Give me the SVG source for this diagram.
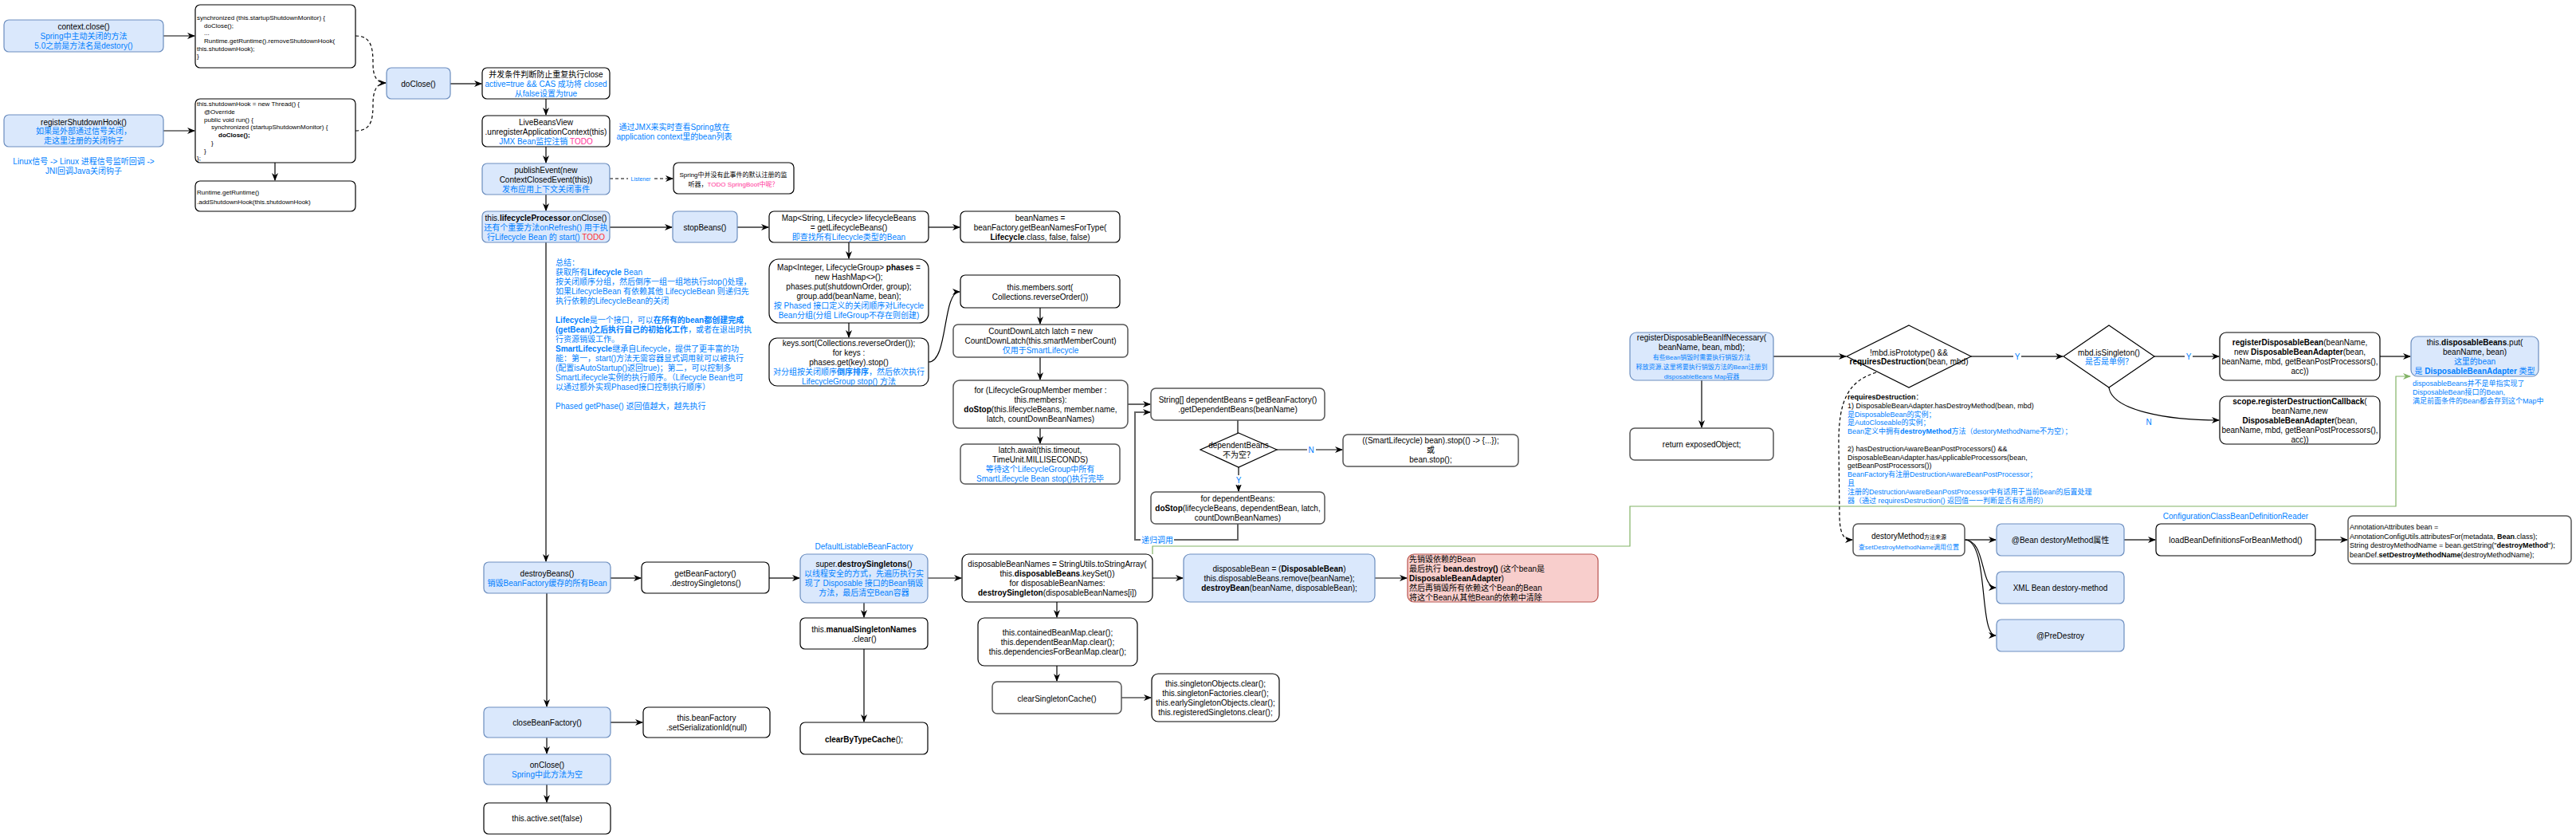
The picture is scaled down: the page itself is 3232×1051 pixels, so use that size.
<svg xmlns="http://www.w3.org/2000/svg" width="3232" height="1051" viewBox="0 0 3232 1051">
<style>
text{font-family:"Liberation Sans","Noto Sans CJK SC",sans-serif;font-size:10px;fill:#000}
.m{text-anchor:middle}
.s7{font-size:7px}
.s8{font-size:8px}
.s9{font-size:9px}
.u{fill:#007FFF}
.k{fill:#FF3399}
.rd{fill:#FF3333}
.bd{font-weight:bold}
.nw{fill:#fff;stroke:#000;stroke-width:1.2}
.ng{fill:#fff;stroke:#555;stroke-width:1.5}
.nb{fill:#dae8fc;stroke:#6c8ebf;stroke-width:1.2}
.nr{fill:#f8cecc;stroke:#b85450;stroke-width:1.2}
.e{fill:none;stroke:#000;stroke-width:1.2}
.eg{fill:none;stroke:#666;stroke-width:2}
.ed{fill:none;stroke:#000;stroke-width:1.2;stroke-dasharray:4 3}
.egr{fill:none;stroke:#82b366;stroke-width:1.2}
.bg{fill:#fff}
</style>
<defs>
<marker id="a" viewBox="0 0 10 10" refX="9" refY="5" markerWidth="10" markerHeight="10" markerUnits="userSpaceOnUse" orient="auto"><path d="M0,1 L10,5 L0,9 L3,5 z" fill="#000"/></marker>
<marker id="ag" viewBox="0 0 10 10" refX="9" refY="5" markerWidth="10" markerHeight="10" markerUnits="userSpaceOnUse" orient="auto"><path d="M0,1 L10,5 L0,9 L3,5 z" fill="#82b366"/></marker>
</defs>
<rect width="3232" height="1051" fill="#fff"/>

<g id="connectors">
<path class="e" d="M205,45 H244" marker-end="url(#a)"/>
<path class="e" d="M205,164 H244" marker-end="url(#a)"/>
<path class="e" d="M345,204 V226" marker-end="url(#a)"/>
<path class="ed" d="M446,45 C466,45 468,60 468,80 C468,95 472,104 484,104" marker-end="url(#a)"/>
<path class="ed" d="M446,164 C466,164 468,150 468,130 C468,115 472,104 484,104"/>
<path class="eg" d="M565,105 H604" marker-end="url(#a)"/>
<path class="e" d="M685,124 V144" marker-end="url(#a)"/>
<path class="e" d="M685,184 V204" marker-end="url(#a)"/>
<path class="e" d="M685,244 V264" marker-end="url(#a)"/>
<path class="ed" d="M765,224 H844" marker-end="url(#a)"/>
<rect class="bg" x="788" y="219" width="32" height="9"/>
<text class="s7 u m" x="804" y="226.5">Listener</text>
<path class="eg" d="M765,285 H843" marker-end="url(#a)"/>
<path class="eg" d="M925,285 H964" marker-end="url(#a)"/>
<path class="eg" d="M1165,285 H1204" marker-end="url(#a)"/>
<path class="e" d="M1065,304 V324" marker-end="url(#a)"/>
<path class="e" d="M1065,405 V423" marker-end="url(#a)"/>
<path class="e" d="M1165,454 C1190,454 1182,366 1204,366" marker-end="url(#a)"/>
<path class="e" d="M1305,386 V406" marker-end="url(#a)"/>
<path class="e" d="M1305,448 V476" marker-end="url(#a)"/>
<path class="e" d="M1305,537 V556" marker-end="url(#a)"/>
<path class="eg" d="M1415,507 H1443" marker-end="url(#a)"/>
<path class="e" d="M1553,527 V543"/>
<path class="e" d="M1602,564 H1684" marker-end="url(#a)"/>
<rect class="bg" x="1640" y="558" width="11" height="12"/>
<text class="u m" x="1645" y="567.5">N</text>
<path class="e" d="M1554,586 V616" marker-end="url(#a)"/>
<rect class="bg" x="1549" y="596" width="10" height="12"/>
<text class="u m" x="1554" y="605.5">Y</text>
<path class="eg" d="M1553,657 V677 H1424 V517 H1443" marker-end="url(#a)"/>
<rect class="bg" x="1431" y="671" width="42" height="13"/>
<text class="u m" x="1452" y="680.5">递归调用</text>
<path class="e" d="M685,304 V704" marker-end="url(#a)"/>
<path class="eg" d="M766,725 H804" marker-end="url(#a)"/>
<path class="eg" d="M965,725 H1003" marker-end="url(#a)"/>
<path class="e" d="M1164,725 H1206" marker-end="url(#a)"/>
<path class="e" d="M1446,725 H1484" marker-end="url(#a)"/>
<path class="e" d="M1725,725 H1765" marker-end="url(#a)"/>
<path class="e" d="M1084,756 V774" marker-end="url(#a)"/>
<path class="e" d="M1084,814 V905" marker-end="url(#a)"/>
<path class="e" d="M1326,755 V774" marker-end="url(#a)"/>
<path class="e" d="M1326,835 V854" marker-end="url(#a)"/>
<path class="e" d="M1407,875 H1444" marker-end="url(#a)"/>
<path class="e" d="M686,744 V886" marker-end="url(#a)"/>
<path class="eg" d="M766,906 H806" marker-end="url(#a)"/>
<path class="e" d="M686,925 V945" marker-end="url(#a)"/>
<path class="e" d="M686,984 V1006" marker-end="url(#a)"/>
<path class="egr" d="M1446,695 V685 H2045 V635 H3006 V472 H3024" marker-end="url(#ag)"/>
<path class="eg" d="M2225,447 H2316" marker-end="url(#a)"/>
<path class="e" d="M2135,477 V536" marker-end="url(#a)"/>
<path class="eg" d="M2473,447 H2588" marker-end="url(#a)"/>
<rect class="bg" x="2526" y="441" width="10" height="12"/>
<text class="u m" x="2531" y="450.5">Y</text>
<path class="eg" d="M2703,447 H2784" marker-end="url(#a)"/>
<rect class="bg" x="2741" y="441" width="10" height="12"/>
<text class="u m" x="2746" y="450.5">Y</text>
<path class="e" d="M2646,486 C2650,515 2720,527 2784,527" marker-end="url(#a)"/>
<text class="u m" x="2696" y="533">N</text>
<path class="eg" d="M2986,447 H3024" marker-end="url(#a)"/>
<path class="ed" d="M2354,467 C2320,478 2306,500 2307,560 L2308,650 C2309,672 2314,677 2324,677" marker-end="url(#a)"/>
<path class="eg" d="M2465,677 H2504" marker-end="url(#a)"/>
<path class="e" d="M2465,677 C2492,677 2484,737 2504,737" marker-end="url(#a)"/>
<path class="e" d="M2465,677 C2496,677 2482,797 2504,797" marker-end="url(#a)"/>
<path class="eg" d="M2665,677 H2704" marker-end="url(#a)"/>
<path class="eg" d="M2905,677 H2945" marker-end="url(#a)"/>
</g>

<g id="n-ctxclose">
<rect class="nb" x="5" y="25" width="200" height="40" rx="6"/>
<text class="m" x="105" y="36.5">context.close()</text>
<text class="m u" x="105" y="48.5">Spring中主动关闭的方法</text>
<text class="m u" x="105" y="60.5">5.0之前是方法名是destory()</text>
</g>
<g id="n-code1">
<rect class="nw" x="245" y="6" width="201" height="79" rx="6"/>
<text class="s8" x="247" y="24.8">synchronized (this.startupShutdownMonitor) {</text>
<text class="s8" x="256" y="34.5">doClose();</text>
<text class="s8" x="256" y="44.1">...</text>
<text class="s8" x="256" y="53.8">Runtime.getRuntime().removeShutdownHook(</text>
<text class="s8" x="247" y="63.5">this.shutdownHook);</text>
<text class="s8" x="247" y="73.1">}</text>
</g>
<g id="n-register">
<rect class="nb" x="5" y="144" width="200" height="40" rx="6"/>
<text class="m" x="105" y="156.5">registerShutdownHook()</text>
<text class="m u" x="105" y="168">如果是外部通过信号关闭，</text>
<text class="m u" x="105" y="179.5">走这里注册的关闭钩子</text>
</g>
<g id="n-linux">
<text class="m u" x="105" y="205.5">Linux信号 -&gt; Linux 进程信号监听回调 -&gt;</text>
<text class="m u" x="105" y="217.5">JNI回调Java关闭钩子</text>
</g>
<g id="n-code2">
<rect class="nw" x="245" y="124" width="201" height="80" rx="6"/>
<text class="s8" x="247" y="132.8">this.shutdownHook = new Thread() {</text>
<text class="s8" x="256" y="142.8">@Override</text>
<text class="s8" x="256" y="152.8">public void run() {</text>
<text class="s8" x="265" y="161.8">synchronized (startupShutdownMonitor) {</text>
<text class="s8 bd" x="274" y="171.8">doClose();</text>
<text class="s8" x="265" y="181.8">}</text>
<text class="s8" x="256" y="191.8">}</text>
<text class="s8" x="247" y="200.8">};</text>
</g>
<g id="n-code3">
<rect class="nw" x="245" y="227" width="201" height="38" rx="6"/>
<text class="s8" x="247" y="243.8">Runtime.getRuntime()</text>
<text class="s8" x="247" y="255.8">.addShutdownHook(this.shutdownHook)</text>
</g>
<g id="n-doclose">
<rect class="nb" x="485" y="85" width="80" height="39" rx="6"/>
<text class="m" x="525" y="108.5">doClose()</text>
</g>
<g id="n-cond">
<rect class="nw" x="605" y="85" width="160" height="39" rx="6"/>
<text class="m" x="685" y="96.5">并发条件判断防止重复执行close</text>
<text class="m u" x="685" y="108.5">active=true &amp;&amp; CAS 成功将 closed</text>
<text class="m u" x="685" y="120.5">从false设置为true</text>
</g>
<g id="n-livebeans">
<rect class="nw" x="605" y="145" width="160" height="39" rx="6"/>
<text class="m" x="685" y="156.5">LiveBeansView</text>
<text class="m" x="685" y="168.5">.unregisterApplicationContext(this)</text>
<text class="m" x="685" y="180.5"><tspan class="u">JMX Bean监控注销 </tspan><tspan class="k">TODO</tspan></text>
</g>
<g id="n-jmxnote">
<text class="m u" x="846" y="162.5">通过JMX来实时查看Spring放在</text>
<text class="m u" x="846" y="174.5">application context里的bean列表</text>
</g>
<g id="n-publish">
<rect class="nb" x="605" y="205" width="160" height="39" rx="6"/>
<text class="m" x="685" y="216.5">publishEvent(new</text>
<text class="m" x="685" y="228.5">ContextClosedEvent(this))</text>
<text class="m u" x="685" y="240.5">发布应用上下文关闭事件</text>
</g>
<g id="n-listenernote">
<rect class="nw" x="845" y="204" width="151" height="39" rx="6"/>
<text class="m s8" x="920" y="221.8">Spring中并没有此事件的默认注册的监</text>
<text class="m s8" x="920" y="233.8">听器，<tspan class="k">TODO SpringBoot中呢？</tspan></text>
</g>
<g id="n-lifecycle">
<rect class="nb" x="605" y="265" width="160" height="39" rx="6"/>
<text class="m" x="685" y="276.5">this.<tspan class="bd">lifecycleProcessor</tspan>.onClose()</text>
<text class="m u" x="685" y="288.5">还有个重要方法onRefresh() 用于执</text>
<text class="m" x="685" y="300.5"><tspan class="u">行Lifecycle Bean 的 start() </tspan><tspan class="rd">TODO</tspan></text>
</g>
<g id="n-stopbeans">
<rect class="nb" x="844" y="265" width="81" height="39" rx="6"/>
<text class="m" x="884.5" y="288.5">stopBeans()</text>
</g>
<g id="n-summary">
<text class="u" x="697" y="332.5">总结：</text>
<text class="u" x="697" y="344.5">获取所有<tspan class="bd">Lifecycle</tspan> Bean</text>
<text class="u" x="697" y="356.5">按关闭顺序分组，然后倒序一组一组地执行stop()处理，</text>
<text class="u" x="697" y="368.5">如果LifecycleBean 有依赖其他 LifecycleBean 则递归先</text>
<text class="u" x="697" y="380.5">执行依赖的LifecycleBean的关闭</text>
<text class="u" x="697" y="404.5"><tspan class="bd">Lifecycle</tspan>是一个接口，可以<tspan class="bd">在所有的bean都创建完成</tspan></text>
<text class="u" x="697" y="416.5"><tspan class="bd">(getBean)之后执行自己的初始化工作</tspan>，或者在退出时执</text>
<text class="u" x="697" y="428.5">行资源销毁工作。</text>
<text class="u" x="697" y="440.5"><tspan class="bd">SmartLifecycle</tspan>继承自Lifecycle，提供了更丰富的功</text>
<text class="u" x="697" y="452.5">能：第一，start()方法无需容器显式调用就可以被执行</text>
<text class="u" x="697" y="464.5">(配置isAutoStartup()返回true)；第二，可以控制多</text>
<text class="u" x="697" y="476.5">SmartLifecycle实例的执行顺序。（Lifecycle Bean也可</text>
<text class="u" x="697" y="488.5">以通过额外实现Phased接口控制执行顺序）</text>
<text class="u" x="697" y="512.5">Phased getPhase() 返回值越大，越先执行</text>
</g>
<g id="n-mapstring">
<rect class="nw" x="965" y="265" width="200" height="39" rx="6"/>
<text class="m" x="1065" y="276.5">Map&lt;String, Lifecycle&gt; lifecycleBeans</text>
<text class="m" x="1065" y="288.5">= getLifecycleBeans()</text>
<text class="m u" x="1065" y="300.5">即查找所有Lifecycle类型的Bean</text>
</g>
<g id="n-beannames">
<rect class="nw" x="1205" y="265" width="200" height="39" rx="6"/>
<text class="m" x="1305" y="276.5">beanNames =</text>
<text class="m" x="1305" y="288.5">beanFactory.getBeanNamesForType(</text>
<text class="m" x="1305" y="300.5"><tspan class="bd">Lifecycle</tspan>.class, false, false)</text>
</g>
<g id="n-phases">
<rect class="nw" x="965" y="325" width="200" height="80" rx="12"/>
<text class="m" x="1065" y="338.5">Map&lt;Integer, LifecycleGroup&gt; <tspan class="bd">phases</tspan> =</text>
<text class="m" x="1065" y="350.5">new HashMap&lt;&gt;();</text>
<text class="m" x="1065" y="362.5">phases.put(shutdownOrder, group);</text>
<text class="m" x="1065" y="374.5">group.add(beanName, bean);</text>
<text class="m u" x="1065" y="386.5">按 Phased 接口定义的关闭顺序对Lifecycle</text>
<text class="m u" x="1065" y="398.5">Bean分组(分组 LifeGroup不存在则创建)</text>
</g>
<g id="n-keys">
<rect class="nw" x="965" y="424" width="200" height="60" rx="10"/>
<text class="m" x="1065" y="433.5">keys.sort(Collections.reverseOrder());</text>
<text class="m" x="1065" y="445.5">for keys :</text>
<text class="m" x="1065" y="457.5">phases.get(key).stop()</text>
<text class="m u" x="1065" y="469.5">对分组按关闭顺序<tspan class="bd">倒序排序</tspan>，然后依次执行</text>
<text class="m u" x="1065" y="481.5">LifecycleGroup stop() 方法</text>
</g>
<g id="n-members">
<rect class="nw" x="1205" y="345" width="200" height="41" rx="6"/>
<text class="m" x="1305" y="363.5">this.members.sort(</text>
<text class="m" x="1305" y="375.5">Collections.reverseOrder())</text>
</g>
<g id="n-latchnew">
<rect class="ng" x="1196" y="407" width="219" height="41" rx="6"/>
<text class="m" x="1305.5" y="418.5">CountDownLatch latch = new</text>
<text class="m" x="1305.5" y="430.5">CountDownLatch(this.smartMemberCount)</text>
<text class="m u" x="1305.5" y="442.5">仅用于SmartLifecycle</text>
</g>
<g id="n-formember">
<rect class="ng" x="1196" y="477" width="219" height="60" rx="8"/>
<text class="m" x="1305.5" y="492.5">for (LifecycleGroupMember member :</text>
<text class="m" x="1305.5" y="504.5">this.members):</text>
<text class="m" x="1305.5" y="516.5"><tspan class="bd">doStop</tspan>(this.lifecycleBeans, member.name,</text>
<text class="m" x="1305.5" y="528.5">latch, countDownBeanNames)</text>
</g>
<g id="n-await">
<rect class="ng" x="1205" y="557" width="200" height="50" rx="6"/>
<text class="m" x="1305" y="567.5">latch.await(this.timeout,</text>
<text class="m" x="1305" y="579.5">TimeUnit.MILLISECONDS)</text>
<text class="m u" x="1305" y="591.5">等待这个LifecycleGroup中所有</text>
<text class="m u" x="1305" y="603.5">SmartLifecycle Bean stop()执行完毕</text>
</g>
<g id="n-dependent">
<rect class="ng" x="1444" y="487" width="218" height="40" rx="6"/>
<text class="m" x="1553" y="504.5">String[] dependentBeans = getBeanFactory()</text>
<text class="m" x="1553" y="516.5">.getDependentBeans(beanName)</text>
</g>
<g id="n-depdiamond">
<path class="nw" d="M1554,543 L1602,564 L1554,586 L1506,564 Z"/>
<text class="m" x="1554" y="561.5">dependentBeans</text>
<text class="m" x="1554" y="573.5">不为空？</text>
</g>
<g id="n-smartstop">
<rect class="ng" x="1685" y="545" width="220" height="40" rx="6"/>
<text class="m" x="1795" y="555.5">((SmartLifecycle) bean).stop(() -&gt; {...});</text>
<text class="m" x="1795" y="567.5">或</text>
<text class="m" x="1795" y="579.5">bean.stop();</text>
</g>
<g id="n-fordep">
<rect class="ng" x="1444" y="617" width="218" height="40" rx="6"/>
<text class="m" x="1553" y="628.5">for dependentBeans:</text>
<text class="m" x="1553" y="640.5"><tspan class="bd">doStop</tspan>(lifecycleBeans, dependentBean, latch,</text>
<text class="m" x="1553" y="652.5">countDownBeanNames)</text>
</g>
<g id="n-destroybeans">
<rect class="nb" x="607" y="705" width="159" height="39" rx="6"/>
<text class="m" x="686.5" y="722.5">destroyBeans()</text>
<text class="m u" x="686.5" y="734.5">销毁BeanFactory缓存的所有Bean</text>
</g>
<g id="n-getbf">
<rect class="nw" x="805" y="705" width="160" height="39" rx="6"/>
<text class="m" x="885" y="722.5">getBeanFactory()</text>
<text class="m" x="885" y="734.5">.destroySingletons()</text>
</g>
<g id="n-superdestroy">
<text class="m u" x="1084" y="688.5">DefaultListableBeanFactory</text>
<rect class="nb" x="1004" y="695" width="160" height="61" rx="8"/>
<text class="m" x="1084" y="710.5">super.<tspan class="bd">destroySingletons</tspan>()</text>
<text class="m u" x="1084" y="722.5">以线程安全的方式，先遍历执行实</text>
<text class="m u" x="1084" y="734.5">现了 Disposable 接口的Bean销毁</text>
<text class="m u" x="1084" y="746.5">方法，最后清空Bean容器</text>
</g>
<g id="n-dispnames">
<rect class="nw" x="1207" y="695" width="239" height="60" rx="8"/>
<text class="m" x="1326.5" y="710.5">disposableBeanNames = StringUtils.toStringArray(</text>
<text class="m" x="1326.5" y="722.5">this.<tspan class="bd">disposableBeans</tspan>.keySet())</text>
<text class="m" x="1326.5" y="734.5">for disposableBeanNames:</text>
<text class="m" x="1326.5" y="746.5"><tspan class="bd">destroySingleton</tspan>(disposableBeanNames[i])</text>
</g>
<g id="n-dispbean">
<rect class="nb" x="1485" y="695" width="240" height="60" rx="8"/>
<text class="m" x="1605" y="716.5">disposableBean = (<tspan class="bd">DisposableBean</tspan>)</text>
<text class="m" x="1605" y="728.5">this.disposableBeans.remove(beanName);</text>
<text class="m" x="1605" y="740.5"><tspan class="bd">destroyBean</tspan>(beanName, disposableBean);</text>
</g>
<g id="n-destroynote">
<rect class="nr" x="1766" y="695" width="239" height="60" rx="8"/>
<text x="1768" y="704.5">先销毁依赖的Bean</text>
<text x="1768" y="716.5">最后执行 <tspan class="bd">bean.destroy()</tspan> (这个bean是</text>
<text x="1768" y="728.5"><tspan class="bd">DisposableBeanAdapter</tspan>)</text>
<text x="1768" y="740.5">然后再销毁所有依赖这个Bean的Bean</text>
<text x="1768" y="752.5">将这个Bean从其他Bean的依赖中清除</text>
</g>
<g id="n-manual">
<rect class="nw" x="1004" y="775" width="160" height="39" rx="6"/>
<text class="m" x="1084" y="792.5">this.<tspan class="bd">manualSingletonNames</tspan></text>
<text class="m" x="1084" y="804.5">.clear()</text>
</g>
<g id="n-clearbytype">
<rect class="nw" x="1004" y="906" width="160" height="40" rx="6"/>
<text class="m" x="1084" y="930.5"><tspan class="bd">clearByTypeCache</tspan>();</text>
</g>
<g id="n-contained">
<rect class="nw" x="1227" y="775" width="200" height="60" rx="8"/>
<text class="m" x="1327" y="796.5">this.containedBeanMap.clear();</text>
<text class="m" x="1327" y="808.5">this.dependentBeanMap.clear();</text>
<text class="m" x="1327" y="820.5">this.dependenciesForBeanMap.clear();</text>
</g>
<g id="n-clearsingleton">
<rect class="ng" x="1245" y="855" width="162" height="40" rx="6"/>
<text class="m" x="1326" y="879.5">clearSingletonCache()</text>
</g>
<g id="n-singletonobjs">
<rect class="nw" x="1445" y="845" width="160" height="60" rx="8"/>
<text class="m" x="1525" y="860.5">this.singletonObjects.clear();</text>
<text class="m" x="1525" y="872.5">this.singletonFactories.clear();</text>
<text class="m" x="1525" y="884.5">this.earlySingletonObjects.clear();</text>
<text class="m" x="1525" y="896.5">this.registeredSingletons.clear();</text>
</g>
<g id="n-closebf">
<rect class="nb" x="607" y="887" width="159" height="38" rx="6"/>
<text class="m" x="686.5" y="909.5">closeBeanFactory()</text>
</g>
<g id="n-setserial">
<rect class="nw" x="807" y="887" width="159" height="38" rx="6"/>
<text class="m" x="886.5" y="903.5">this.beanFactory</text>
<text class="m" x="886.5" y="915.5">.setSerializationId(null)</text>
</g>
<g id="n-onclose">
<rect class="nb" x="607" y="946" width="159" height="38" rx="6"/>
<text class="m" x="686.5" y="962.5">onClose()</text>
<text class="m u" x="686.5" y="974.5">Spring中此方法为空</text>
</g>
<g id="n-active">
<rect class="nw" x="607" y="1007" width="159" height="39" rx="6"/>
<text class="m" x="686.5" y="1029.5">this.active.set(false)</text>
</g>
<g id="n-regifnec">
<rect class="nb" x="2045" y="417" width="180" height="60" rx="8"/>
<text class="m" x="2135" y="426.5">registerDisposableBeanIfNecessary(</text>
<text class="m" x="2135" y="438.5">beanName, bean, mbd);</text>
<text class="m u s8" x="2135" y="450.8">有些Bean销毁时需要执行销毁方法</text>
<text class="m u s8" x="2135" y="462.8">释放资源,这里将要执行销毁方法的Bean注册到</text>
<text class="m u s8" x="2135" y="474.8">disposableBeans Map容器</text>
</g>
<g id="n-return">
<rect class="ng" x="2045" y="537" width="180" height="40" rx="6"/>
<text class="m" x="2135" y="560.5">return exposedObject;</text>
</g>
<g id="n-diamond1">
<path class="nw" d="M2395,408 L2473,447 L2395,486 L2317,447 Z"/>
<text class="m" x="2395" y="445.5">!mbd.isPrototype() &amp;&amp;</text>
<text class="m" x="2395" y="456.5"><tspan class="bd">requiresDestruction</tspan>(bean, mbd)</text>
</g>
<g id="n-requires">
<text class="s9" x="2318" y="501"><tspan class="bd">requiresDestruction</tspan>：</text>
<text class="s9" x="2318" y="512">1) DisposableBeanAdapter.hasDestroyMethod(bean, mbd)</text>
<text class="s9 u" x="2318" y="523">是DisposableBean的实例；</text>
<text class="s9 u" x="2318" y="533">是AutoCloseable的实例；</text>
<text class="s9 u" x="2318" y="544">Bean定义中拥有<tspan class="bd">destroyMethod</tspan>方法（destoryMethodName不为空）；</text>
<text class="s9" x="2318" y="566">2) hasDestructionAwareBeanPostProcessors() &amp;&amp;</text>
<text class="s9" x="2318" y="577">DisposableBeanAdapter.hasApplicableProcessors(bean,</text>
<text class="s9" x="2318" y="587">getBeanPostProcessors())</text>
<text class="s9 u" x="2318" y="598">BeanFactory有注册DestructionAwareBeanPostProcessor；</text>
<text class="s9 u" x="2318" y="609">且</text>
<text class="s9 u" x="2318" y="620">注册的DestructionAwareBeanPostProcessor中有适用于当前Bean的后置处理</text>
<text class="s9 u" x="2318" y="631">器（通过 requiresDestruction() 返回值一一判断是否有适用的）</text>
</g>
<g id="n-diamond2">
<path class="nw" d="M2646,408 L2703,447 L2646,486 L2589,447 Z"/>
<text class="m" x="2646" y="445.5">mbd.isSingleton()</text>
<text class="m u" x="2646" y="456.5">是否是单例？</text>
</g>
<g id="n-regdisp">
<rect class="nw" x="2785" y="417" width="201" height="60" rx="8"/>
<text class="m" x="2885.5" y="432.5"><tspan class="bd">registerDisposableBean</tspan>(beanName,</text>
<text class="m" x="2885.5" y="444.5">new <tspan class="bd">DisposableBeanAdapter</tspan>(bean,</text>
<text class="m" x="2885.5" y="456.5">beanName, mbd, getBeanPostProcessors(),</text>
<text class="m" x="2885.5" y="468.5">acc))</text>
</g>
<g id="n-scope">
<rect class="nw" x="2785" y="497" width="201" height="60" rx="8"/>
<text class="m" x="2885.5" y="506.5"><tspan class="bd">scope.registerDestructionCallback</tspan>(</text>
<text class="m" x="2885.5" y="518.5">beanName,new</text>
<text class="m" x="2885.5" y="530.5"><tspan class="bd">DisposableBeanAdapter</tspan>(bean,</text>
<text class="m" x="2885.5" y="542.5">beanName, mbd, getBeanPostProcessors(),</text>
<text class="m" x="2885.5" y="554.5">acc))</text>
</g>
<g id="n-put">
<rect class="nb" x="3025" y="422" width="160" height="50" rx="8"/>
<text class="m" x="3105" y="432.5">this.<tspan class="bd">disposableBeans</tspan>.put(</text>
<text class="m" x="3105" y="444.5">beanName, bean)</text>
<text class="m u" x="3105" y="456.5">这里的bean</text>
<text class="m u" x="3105" y="468.5">是 <tspan class="bd">DisposableBeanAdapter</tspan> 类型</text>
</g>
<g id="n-putnote">
<text class="s9 u" x="3027" y="484">disposableBeans并不是单指实现了</text>
<text class="s9 u" x="3027" y="495">DisposableBean接口的Bean,</text>
<text class="s9 u" x="3027" y="506">满足前面条件的Bean都会存到这个Map中</text>
</g>
<g id="n-destorymethod">
<rect class="ng" x="2325" y="657" width="140" height="40" rx="6"/>
<text class="m" x="2395" y="675.5">destoryMethod<tspan class="s7">方法来源</tspan></text>
<text class="m u s8" x="2395" y="688.8">查setDestroyMethodName调用位置</text>
</g>
<g id="n-beanattr">
<rect class="nb" x="2505" y="657" width="160" height="40" rx="6"/>
<text class="m" x="2585" y="680.5">@Bean destoryMethod属性</text>
</g>
<g id="n-xml">
<rect class="nb" x="2505" y="717" width="160" height="40" rx="6"/>
<text class="m" x="2585" y="740.5">XML Bean destory-method</text>
</g>
<g id="n-predestroy">
<rect class="nb" x="2505" y="777" width="160" height="40" rx="6"/>
<text class="m" x="2585" y="800.5">@PreDestroy</text>
</g>
<g id="n-load">
<text class="m u" x="2805" y="650.5">ConfigurationClassBeanDefinitionReader</text>
<rect class="nw" x="2705" y="657" width="200" height="40" rx="6"/>
<text class="m" x="2805" y="680.5">loadBeanDefinitionsForBeanMethod()</text>
</g>
<g id="n-annotation">
<rect class="ng" x="2946" y="647" width="280" height="60" rx="6"/>
<text class="s9" x="2948" y="664">AnnotationAttributes bean =</text>
<text class="s9" x="2948" y="676">AnnotationConfigUtils.attributesFor(metadata, <tspan class="bd">Bean</tspan>.class);</text>
<text class="s9" x="2948" y="687">String destroyMethodName = bean.getString("<tspan class="bd">destroyMethod</tspan>");</text>
<text class="s9" x="2948" y="699">beanDef.<tspan class="bd">setDestroyMethodName</tspan>(destroyMethodName);</text>
</g>
</svg>
